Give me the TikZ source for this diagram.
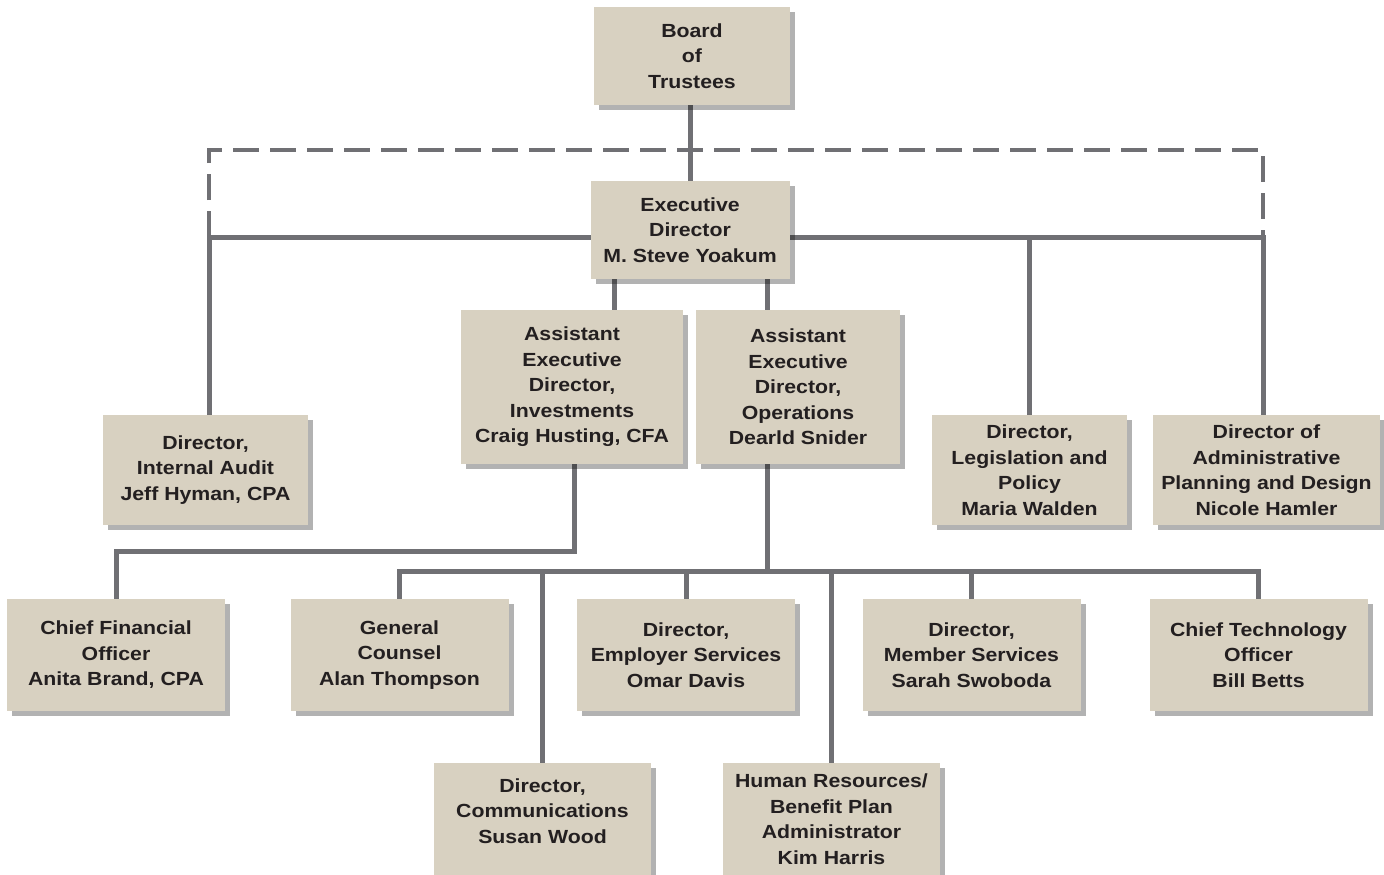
\documentclass[tikz,border=0pt]{standalone}
\usepackage{fontspec}
\setmainfont[FakeStretch=1.12]{Liberation Sans}
\usetikzlibrary{backgrounds,positioning,shadows}
\definecolor{boxi}{RGB}{216,209,193}
\definecolor{linei}{RGB}{112,112,116}
\definecolor{texti}{RGB}{35,31,32}
\tikzset{
      myorgblock/.style 2 args={
        fill=boxi,
        text=texti,
        align=center,
        inner sep=0pt,
        font=\fontsize{19}{25.5}\selectfont\bfseries,
        minimum width=#1,
        minimum height=#2,
        drop shadow={shadow xshift=5pt,shadow yshift=-5pt,fill=black,opacity=0.3}
      },
      myline/.style={
        draw=linei,
        line width=5pt
      },
      mydashline/.style={
        draw=linei,
        line width=4pt,
        dash pattern=on 26pt off 11pt
      },
    }

\begin{document}
\begin{tikzpicture}[x=1pt,y=-1pt]

            \useasboundingbox (0,0) rectangle (1384,875);

            %Direccio
            \node[myorgblock={196pt}{98pt}] at (692,56)
              (board)
              {Board\\of\\Trustees};
            \node[myorgblock={199pt}{98pt}] at (690,230)
              (exec)
              {Executive\\Director\\M. Steve Yoakum};

            %Adjunts
            \node[myorgblock={222pt}{154pt}] at (572,387)
              (invest)
              {Assistant\\Executive\\Director,\\Investments\\Craig Husting, CFA};
            \node[myorgblock={204pt}{154pt}] at (798,387)
              (oper)
              {Assistant\\Executive\\Director,\\Operations\\Dearld Snider};

            %Directors
            \node[myorgblock={205pt}{110pt}] at (205.5,470)
              (audit)
              {Director,\\Internal Audit\\Jeff Hyman, CPA};
            \node[myorgblock={195pt}{110pt}] at (1029.5,470)
              (legis)
              {Director,\\Legislation and\\Policy\\Maria Walden};
            \node[myorgblock={227pt}{110pt}] at (1266.5,470)
              (plan)
              {Director of\\Administrative\\Planning and Design\\Nicole Hamler};

            %Fila inferior
            \node[myorgblock={218pt}{112pt}] at (116,655)
              (cfo)
              {Chief Financial\\Officer\\Anita Brand, CPA};
            \node[myorgblock={218pt}{112pt}] at (399.5,655)
              (counsel)
              {General\\Counsel\\Alan Thompson};
            \node[myorgblock={218pt}{112pt}] at (686,655)
              (employer)
              {Director,\\Employer Services\\Omar Davis};
            \node[myorgblock={218pt}{112pt}] at (971.5,655)
              (member)
              {Director,\\Member Services\\Sarah Swoboda};
            \node[myorgblock={218pt}{112pt}] at (1258.5,655)
              (cto)
              {Chief Technology\\Officer\\Bill Betts};
            \node[myorgblock={217pt}{112pt}] at (542.5,819)
              (comms)
              {Director,\\Communications\\Susan Wood\\[-9pt]\mbox{}};
            \node[myorgblock={217pt}{112pt}] at (831.5,819)
              (hr)
              {Human Resources/\\Benefit Plan\\Administrator\\Kim Harris};

            \coordinate (barL) at (209,237);
            \coordinate (barR) at (1263,237);
            \coordinate (dashTop) at (690,150);
            \coordinate (investBar) at (574,551);
            \coordinate (operBar) at (767,571);

            \begin{pgfonlayer}{background}
              \fill[white] (0,0) rectangle (1384,875);
              \draw[mydashline] (barL) |- (dashTop) -| (barR);
              \draw[myline] (exec.north |- board.south) -- (exec.north);
              \draw[myline] (barL |- audit.north) -- (barL) -- (barR) -- (barR |- plan.north);
              \draw[myline] (legis.north) -- (legis.north |- barL);
              \draw[myline] ([xshift=-76pt]exec.south) -- ([xshift=-76pt]exec.south |- invest.north);
              \draw[myline] (operBar |- exec.south) -- (operBar |- oper.north);
              \draw[myline] (investBar |- invest.south) -- (investBar) -| (cfo.north);
              \draw[myline] (operBar |- oper.south) -- (operBar);
              \draw[myline] (counsel.north) |- (operBar) -| (cto.north);
              \draw[myline] (employer.north) -- (employer.north |- operBar);
              \draw[myline] (member.north) -- (member.north |- operBar);
              \draw[myline] (comms.north) -- (comms.north |- operBar);
              \draw[myline] (hr.north) -- (hr.north |- operBar);
            \end{pgfonlayer}

          \end{tikzpicture}
\end{document}
